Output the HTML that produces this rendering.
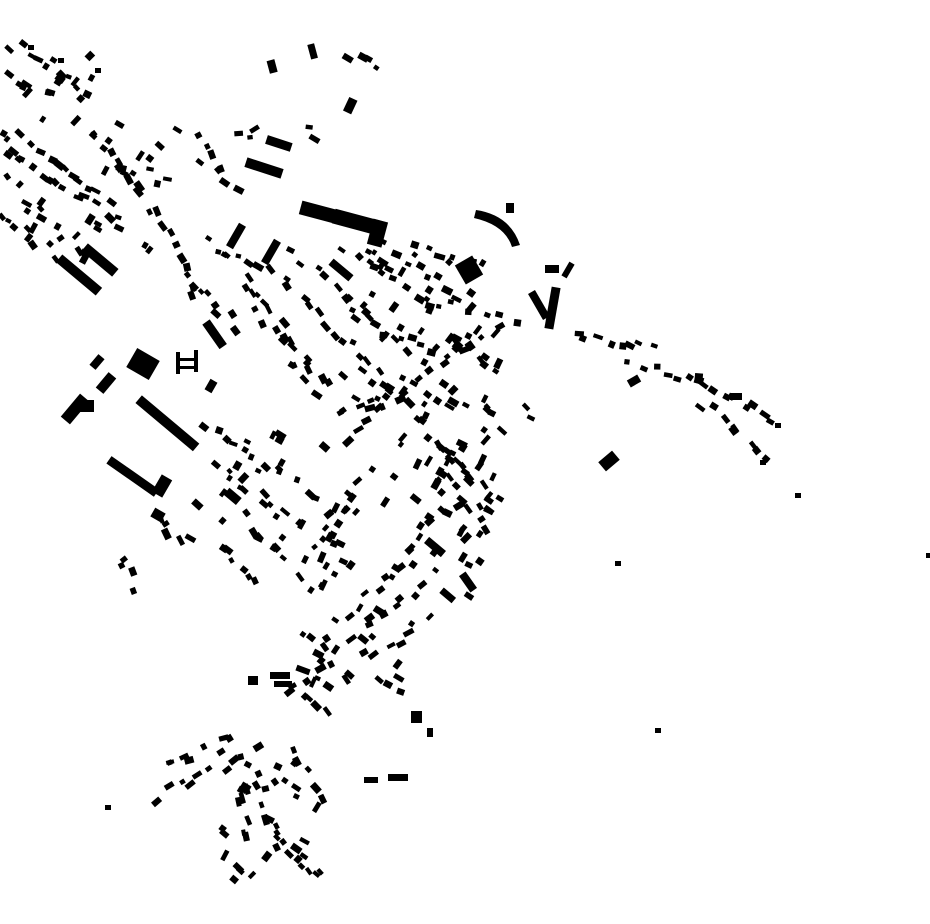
<!DOCTYPE html>
<html><head><meta charset="utf-8"><style>
html,body{margin:0;padding:0;background:#fff;width:930px;height:924px;overflow:hidden}
svg{display:block}
</style></head><body>
<svg id="s" width="930" height="924" viewBox="0 0 930 924" xmlns="http://www.w3.org/2000/svg">
<g fill="#000">
<rect x="300" y="205" width="36" height="14" transform="rotate(15 318 212)"/>
<rect x="333" y="215" width="50" height="15" transform="rotate(15 358 222)"/>
<rect x="370" y="220" width="15" height="26" transform="rotate(15 377 233)"/>
<rect x="459" y="259" width="20" height="22" transform="rotate(-30 469 270)"/>
<path d="M476 210 Q510 215 520 245 L512 247 Q505 225 474 218 Z"/>
<rect x="506" y="203" width="8" height="10"/>
<rect x="548" y="287" width="9" height="42" transform="rotate(10 552 308)"/>
<rect x="535" y="290" width="8" height="30" transform="rotate(-30 539 305)"/>
<rect x="545" y="265" width="14" height="8"/>
<rect x="565" y="262" width="6" height="16" transform="rotate(30 568 270)"/>
<rect x="130" y="353" width="26" height="22" transform="rotate(30 143 364)"/>
<rect x="60" y="403" width="30" height="12" transform="rotate(-50 75 409)"/>
<rect x="80" y="400" width="14" height="12"/>
<rect x="96" y="378" width="20" height="10" transform="rotate(-50 106 383)"/>
<rect x="90" y="358" width="14" height="8" transform="rotate(-50 97 362)"/>
<rect x="130" y="418" width="75" height="10" transform="rotate(40 167 423)"/>
<rect x="104" y="472" width="58" height="9" transform="rotate(35 133 476)"/>
<rect x="156" y="476" width="12" height="20" transform="rotate(30 162 486)"/>
<rect x="53" y="270" width="52" height="10" transform="rotate(40 79 275)"/>
<rect x="80" y="255" width="40" height="10" transform="rotate(40 100 260)"/>
<rect x="245" y="163" width="38" height="10" transform="rotate(18 264 168)"/>
<rect x="266" y="139" width="26" height="9" transform="rotate(18 279 143)"/>
<rect x="600" y="455" width="18" height="12" transform="rotate(-40 609 461)"/>
<rect x="411" y="711" width="11" height="12"/>
<rect x="427" y="728" width="6" height="9"/>
<rect x="364" y="777" width="14" height="6"/>
<rect x="388" y="774" width="20" height="7"/>
<rect x="268" y="60" width="8" height="13" transform="rotate(-15 272 66)"/>
<rect x="309" y="44" width="7" height="15" transform="rotate(-15 312 51)"/>
<rect x="346" y="98" width="9" height="15" transform="rotate(25 350 105)"/>
<rect x="176" y="352" width="4" height="22"/><rect x="194" y="350" width="4" height="22"/>
<rect x="176" y="358" width="22" height="3"/><rect x="176" y="366" width="22" height="3"/>
<rect x="200" y="330" width="30" height="9" transform="rotate(55 215 334)"/>
<rect x="223" y="232" width="26" height="8" transform="rotate(-60 236 236)"/>
<rect x="258" y="248" width="26" height="8" transform="rotate(-60 271 252)"/>
<rect x="328" y="266" width="26" height="8" transform="rotate(40 341 270)"/>
<rect x="424" y="543" width="22" height="8" transform="rotate(40 435 547)"/>
<rect x="458" y="578" width="20" height="8" transform="rotate(55 468 582)"/>
<rect x="440" y="592" width="16" height="7" transform="rotate(40 448 595)"/>
<rect x="248" y="676" width="10" height="9"/>
<rect x="270" y="672" width="20" height="7"/><rect x="274" y="681" width="18" height="6"/>
<rect x="296" y="667" width="14" height="6" transform="rotate(20 303 670)"/>
<rect x="207" y="380" width="8" height="12" transform="rotate(30 211 386)"/>
<rect x="225" y="492" width="16" height="9" transform="rotate(40 233 496)"/>
<rect x="152" y="510" width="12" height="10" transform="rotate(30 158 515)"/>
<rect x="730" y="393" width="12" height="7"/>
<rect x="628" y="377" width="12" height="8" transform="rotate(-30 634 381)"/>
</g>
<g id="dots" fill="#000"></g>
</svg>
<script>
var seed=7;function r(){seed=(seed*16807)%2147483647;return (seed-1)/2147483646;}
var L=[
[5,125,100,195,10],[10,150,130,230,12],[0,175,80,250,8],[0,210,60,260,6],[20,45,95,95,9],[15,80,60,100,4],
[90,125,170,240,12],[120,165,170,185,5],[180,270,240,330,8],[200,240,260,270,7],[240,270,330,390,12],
[270,260,360,360,10],[290,250,410,350,12],[340,245,440,310,10],[380,240,460,300,8],[410,240,490,270,6],
[420,300,520,320,7],[340,440,510,320,16],[330,420,380,400,5],[200,420,320,500,12],[210,460,300,530,8],
[240,510,300,580,6],[300,560,360,480,8],[310,600,350,510,8],[340,620,460,500,12],[350,640,430,580,8],
[360,660,420,630,5],[420,420,490,500,10],[440,470,490,530,8],[280,700,330,660,5],[160,770,240,735,8],
[150,800,260,745,10],[230,800,280,775,4],[240,780,250,845,6],[255,770,280,850,6],[290,750,320,800,5],
[270,830,320,880,8],[570,330,660,350,8],[620,360,700,380,6],[680,375,780,420,10],[700,400,770,460,8],
[520,405,535,415,2],[120,550,140,590,4],[155,510,180,550,4],[220,540,260,590,5],[200,130,225,170,4],
[230,140,262,130,3],[350,55,380,70,4],[200,160,240,195,4],[175,240,200,300,5],[245,290,310,380,8],
[360,360,420,420,6],[380,330,440,350,5],[450,330,500,380,6],[300,130,325,140,2],[400,380,460,410,5],
[480,400,500,430,3],[320,630,345,690,4],[370,680,400,700,3],[300,690,330,720,3]];
var B=[[0,100,180,260,30],[290,240,500,400,45],[320,440,500,620,45],[220,760,320,880,22],[190,420,310,560,20],[400,400,500,530,18],[300,620,420,700,15],[0,40,100,100,10]];
var g=document.getElementById('dots'),h='';
function d(x,y,a){var w=5+r()*6,hh=4+r()*3;h+='<rect x="'+(x-w/2)+'" y="'+(y-hh/2)+'" width="'+w+'" height="'+hh+'" transform="rotate('+a+' '+x+' '+y+')"/>';}
L.forEach(function(l){var dx=l[2]-l[0],dy=l[3]-l[1],a=Math.atan2(dy,dx)*180/Math.PI;
for(var i=0;i<l[4];i++){var t=(i+0.5)/l[4];d(l[0]+dx*t+(r()-0.5)*12,l[1]+dy*t+(r()-0.5)*12,a+(r()-0.5)*30);}});
B.forEach(function(b){for(var i=0;i<b[4];i++){d(b[0]+r()*(b[2]-b[0]),b[1]+r()*(b[3]-b[1]),(r()<0.5?35:-55)+(r()-0.5)*20);}});
[[795,493],[926,553],[615,561],[105,805],[655,728],[28,45],[58,58],[95,68],[775,423],[760,460]].forEach(function(p){h+='<rect x="'+p[0]+'" y="'+p[1]+'" width="6" height="5"/>';});
g.innerHTML=h;
</script>
</body></html>
